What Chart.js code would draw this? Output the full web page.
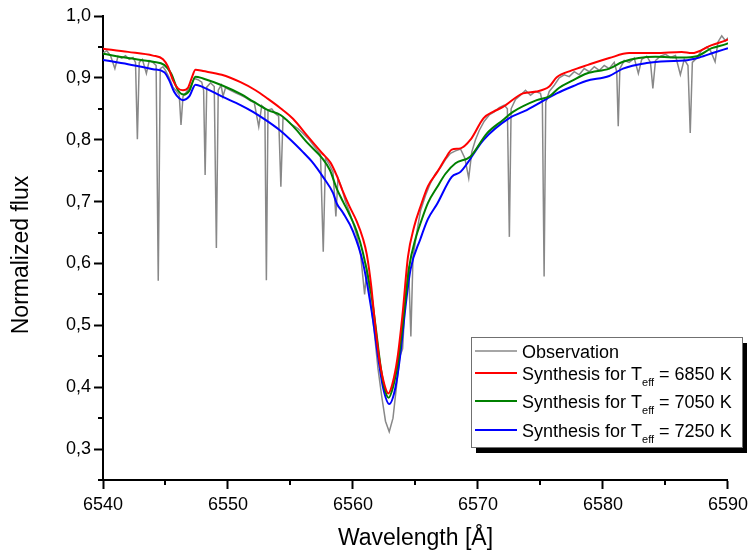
<!DOCTYPE html>
<html>
<head>
<meta charset="utf-8">
<script src="https://cdn.jsdelivr.net/npm/chart.js@4.4.0/dist/chart.umd.min.js"></script>
<style>
  html, body { margin: 0; padding: 0; background: #fff; }
</style>
</head>
<body>
<canvas id="specChart" width="753" height="556"></canvas>
<script>
// axis ticks
const xMajorTicks = [6540, 6550, 6560, 6570, 6580, 6590];
const xMinorTicks = [6545, 6555, 6565, 6575, 6585];
const yMajorTicks = [0.3, 0.4, 0.5, 0.6, 0.7, 0.8, 0.9, 1.0];
const yMinorTicks = [0.25, 0.35, 0.45, 0.55, 0.65, 0.75, 0.85, 0.95];

// observed spectrum
const obsWave = [
  6540.0, 6540.3, 6540.6, 6540.95, 6541.2, 6541.5, 6541.8, 6542.1, 6542.4, 6542.6,
  6542.75, 6542.9, 6543.15, 6543.47, 6543.7, 6544.0, 6544.25, 6544.42, 6544.58, 6544.8,
  6545.0, 6545.3, 6545.6, 6545.9, 6546.1, 6546.24, 6546.4, 6546.7, 6547.0, 6547.3,
  6547.6, 6547.9, 6548.05, 6548.17, 6548.3, 6548.6, 6548.9, 6549.07, 6549.22, 6549.45,
  6549.6, 6549.8, 6550.2, 6550.6, 6551.0, 6551.4, 6551.8, 6552.1, 6552.46, 6552.7,
  6552.95, 6553.07, 6553.2, 6553.5, 6553.8, 6554.05, 6554.23, 6554.4, 6554.7, 6555.0,
  6555.3, 6555.6, 6555.9, 6556.2, 6556.5, 6556.8, 6557.1, 6557.4, 6557.62, 6557.8,
  6558.1, 6558.4, 6558.63, 6558.8, 6559.1, 6559.4, 6559.7, 6560.0, 6560.3, 6560.6,
  6560.93, 6561.1, 6561.4, 6561.7, 6562.0, 6562.3, 6562.6, 6562.9, 6563.2, 6563.5,
  6563.75, 6563.97, 6564.2, 6564.45, 6564.63, 6564.8, 6565.1, 6565.4, 6565.8, 6566.2,
  6566.6, 6567.0, 6567.4, 6567.8, 6568.2, 6568.6, 6568.95, 6569.26, 6569.5, 6569.8,
  6570.1, 6570.5, 6570.9, 6571.3, 6571.7, 6572.1, 6572.35, 6572.51, 6572.65, 6573.0,
  6573.4, 6573.8, 6574.2, 6574.6, 6575.0, 6575.15, 6575.29, 6575.42, 6575.7, 6576.1,
  6576.5, 6576.9, 6577.3, 6577.7, 6578.1, 6578.5, 6578.9, 6579.3, 6579.7, 6580.1,
  6580.5, 6580.9, 6581.1, 6581.22, 6581.35, 6581.7, 6582.1, 6582.5, 6582.83, 6583.1,
  6583.5, 6583.8, 6583.99, 6584.2, 6584.6, 6585.0, 6585.4, 6585.8, 6586.19, 6586.5,
  6586.8, 6586.98, 6587.15, 6587.5, 6587.9, 6588.3, 6588.6, 6588.97, 6589.2, 6589.5,
  6589.8, 6590.0
];
const obsFlux = [
  0.940, 0.944, 0.936, 0.915, 0.935, 0.932, 0.936, 0.930, 0.933, 0.925,
  0.801, 0.925, 0.930, 0.907, 0.928, 0.925, 0.920, 0.572, 0.915, 0.918,
  0.912, 0.900, 0.885, 0.878, 0.872, 0.824, 0.870, 0.878, 0.886, 0.899,
  0.897, 0.893, 0.880, 0.743, 0.885, 0.892, 0.886, 0.625, 0.880, 0.888,
  0.870, 0.884, 0.880, 0.876, 0.872, 0.868, 0.863, 0.860, 0.821, 0.855,
  0.850, 0.573, 0.848, 0.850, 0.842, 0.838, 0.724, 0.835, 0.832, 0.826,
  0.822, 0.818, 0.812, 0.806, 0.800, 0.792, 0.784, 0.776, 0.619, 0.770,
  0.760, 0.748, 0.676, 0.738, 0.722, 0.700, 0.684, 0.666, 0.645, 0.616,
  0.550, 0.590, 0.540, 0.490, 0.430, 0.385, 0.345, 0.328, 0.350, 0.405,
  0.450, 0.462, 0.550, 0.595, 0.482, 0.610, 0.650, 0.685, 0.710, 0.730,
  0.745, 0.755, 0.768, 0.778, 0.782, 0.785, 0.770, 0.738, 0.780, 0.800,
  0.815, 0.830, 0.840, 0.845, 0.852, 0.856, 0.850, 0.643, 0.850, 0.865,
  0.872, 0.880, 0.872, 0.878, 0.875, 0.860, 0.579, 0.860, 0.878, 0.888,
  0.900, 0.905, 0.902, 0.910, 0.905, 0.915, 0.910, 0.918, 0.912, 0.920,
  0.915, 0.925, 0.910, 0.822, 0.915, 0.928, 0.925, 0.932, 0.907, 0.930,
  0.935, 0.925, 0.883, 0.928, 0.935, 0.938, 0.933, 0.936, 0.905, 0.930,
  0.920, 0.811, 0.925, 0.932, 0.945, 0.950, 0.944, 0.926, 0.958, 0.968,
  0.960, 0.965
];

// synthetic spectra
const wave6850 = [
  6540, 6542, 6544, 6544.8, 6545.2, 6545.6, 6546.0, 6546.4, 6546.8, 6547.1,
  6547.4, 6548, 6549.5, 6551, 6552.2, 6553.2, 6554.2, 6555.2, 6556.4, 6557.5,
  6558.2, 6558.7, 6559.2, 6559.7, 6560.3, 6560.8, 6561.1, 6561.45, 6561.7, 6562.1,
  6562.5, 6562.83, 6563.15, 6563.55, 6563.95, 6564.4, 6564.9, 6565.4, 6566.0, 6566.75,
  6567.4, 6567.9, 6568.6, 6569.4, 6570.45, 6571.2, 6572.0, 6573.6, 6574.7, 6575.7,
  6576.3, 6577.5, 6578.8, 6580.5, 6582.1, 6584.2, 6586.3, 6587.1, 6588.7, 6589.9,
  6590
];
const flux6850 = [
  0.947, 0.942, 0.936, 0.930, 0.918, 0.896, 0.883, 0.880, 0.884, 0.900,
  0.913, 0.911, 0.905, 0.893, 0.880, 0.866, 0.851, 0.834, 0.805, 0.779,
  0.763, 0.742, 0.716, 0.693, 0.668, 0.640, 0.615, 0.565, 0.515, 0.446,
  0.405, 0.390, 0.405, 0.446, 0.515, 0.611, 0.660, 0.692, 0.725, 0.748,
  0.770, 0.784, 0.786, 0.800, 0.835, 0.845, 0.853, 0.875, 0.878, 0.886,
  0.901, 0.912, 0.921, 0.932, 0.940, 0.940, 0.942, 0.940, 0.953, 0.961,
  0.962
];
const wave7050 = [
  6540, 6542, 6544, 6544.9, 6545.45, 6546.0, 6546.45, 6546.9, 6547.4, 6548,
  6549.5, 6551, 6552, 6553.2, 6554.2, 6555.2, 6556.4, 6557.5, 6558.15, 6558.7,
  6559.2, 6559.7, 6560.3, 6560.8, 6561.45, 6561.8, 6562.2, 6562.5, 6562.85, 6563.2,
  6563.6, 6564.0, 6564.5, 6565.0, 6565.4, 6566.0, 6566.75, 6567.4, 6568.2, 6569.4,
  6570.7, 6572.0, 6572.8, 6574.7, 6575.7, 6576.5, 6577.5, 6578.7, 6580.5, 6581.6,
  6584.2, 6586.3, 6587.5, 6588.7, 6589.9, 6590
];
const flux7050 = [
  0.939, 0.932, 0.926, 0.921, 0.907, 0.880, 0.873, 0.879, 0.902, 0.899,
  0.888, 0.874, 0.862, 0.848, 0.840, 0.822, 0.794, 0.771, 0.751, 0.721,
  0.700, 0.680, 0.652, 0.617, 0.552, 0.500, 0.435, 0.400, 0.383, 0.400,
  0.440, 0.505, 0.595, 0.640, 0.665, 0.698, 0.724, 0.745, 0.762, 0.773,
  0.810, 0.832, 0.845, 0.864, 0.870, 0.884, 0.895, 0.907, 0.915, 0.926,
  0.934, 0.933, 0.935, 0.948, 0.955, 0.956
];
const wave7250 = [
  6540, 6542, 6544, 6544.9, 6545.3, 6545.7, 6546.1, 6546.4, 6546.9, 6547.4,
  6548, 6549.5, 6551, 6552, 6553, 6554.1, 6555, 6556, 6556.7, 6557.6,
  6558.4, 6558.7, 6559.2, 6560.0, 6560.8, 6561.6, 6562.0, 6562.4, 6562.9, 6563.4,
  6563.8, 6564.2, 6564.6, 6565.4, 6566.0, 6566.75, 6567.9, 6568.6, 6570.45, 6572.5,
  6573.9, 6575.5, 6576.3, 6577.9, 6578.65, 6580.5, 6581.6, 6583.5, 6585.1, 6586.5,
  6587.7, 6588.9, 6590
];
const flux7250 = [
  0.929, 0.922, 0.914, 0.909, 0.896, 0.877, 0.867, 0.864, 0.870, 0.889,
  0.885, 0.870, 0.856, 0.845, 0.832, 0.816, 0.800, 0.780, 0.765, 0.740,
  0.714, 0.697, 0.682, 0.652, 0.601, 0.509, 0.450, 0.400, 0.373, 0.400,
  0.455, 0.530, 0.590, 0.640, 0.672, 0.697, 0.740, 0.748, 0.800, 0.835,
  0.848, 0.866, 0.875, 0.889, 0.895, 0.903, 0.915, 0.924, 0.927, 0.928,
  0.933, 0.941, 0.948
];

const temps = [6850, 7050, 7250];

function toPoints(xs, ys) {
  return xs.map((x, i) => ({ x: x, y: ys[i] }));
}

const fmtComma = v => v.toFixed(1).replace('.', ',');
const FONT = '"Liberation Sans", Arial, sans-serif';

// short minor ticks on both axes
const minorTicks = {
  id: 'minorTicks',
  afterDraw(chart) {
    const ctx = chart.ctx;
    const xs = chart.scales.x, ys = chart.scales.y;
    const area = chart.chartArea;
    ctx.save();
    ctx.strokeStyle = '#000';
    ctx.lineWidth = 2;
    ctx.beginPath();
    xMinorTicks.forEach(v => {
      const px = Math.round(xs.getPixelForValue(v));
      ctx.moveTo(px, area.bottom);
      ctx.lineTo(px, area.bottom + 5);
    });
    yMinorTicks.forEach(v => {
      const py = Math.round(ys.getPixelForValue(v));
      ctx.moveTo(area.left, py);
      ctx.lineTo(area.left - 5, py);
    });
    ctx.stroke();
    ctx.restore();
  }
};

// y title, sitting a bit below the middle of the axis like the original
const yTitle = {
  id: 'yTitle',
  afterDraw(chart) {
    const ctx = chart.ctx;
    ctx.save();
    ctx.translate(22, 255);
    ctx.rotate(-Math.PI / 2);
    ctx.font = '23px ' + FONT;
    ctx.fillStyle = '#000';
    ctx.textAlign = 'center';
    ctx.textBaseline = 'middle';
    ctx.fillText('Normalized flux', 0, 0);
    ctx.restore();
  }
};

// boxed legend with drop shadow and T_eff subscript
const boxLegend = {
  id: 'boxLegend',
  afterDraw(chart) {
    const ctx = chart.ctx;
    const left = 471, top = 337, w = 271, h = 110;
    ctx.save();
    ctx.fillStyle = '#000';
    ctx.fillRect(left + 5, top + 6, w, h);
    ctx.fillStyle = '#fff';
    ctx.fillRect(left, top, w, h);
    ctx.strokeStyle = '#707070';
    ctx.lineWidth = 1;
    ctx.strokeRect(left + 0.5, top + 0.5, w, h);

    const rowY = [351, 373, 401, 430];
    const sets = chart.data.datasets;
    sets.forEach((ds, r) => {
      const y = rowY[r];
      ctx.strokeStyle = ds.borderColor;
      ctx.lineWidth = ds.borderWidth;
      ctx.beginPath();
      ctx.moveTo(475, y);
      ctx.lineTo(517, y);
      ctx.stroke();

      ctx.fillStyle = '#000';
      ctx.textBaseline = 'alphabetic';
      ctx.textAlign = 'left';
      ctx.font = '18px ' + FONT;
      let x = 522;
      if (r === 0) {
        ctx.fillText(ds.label, x, y + 6.5);
      } else {
        const head = 'Synthesis for T';
        ctx.fillText(head, x, y + 6.5);
        x += ctx.measureText(head).width;
        ctx.font = '11px ' + FONT;
        ctx.fillText('eff', x, y + 13);
        x += ctx.measureText('eff').width;
        ctx.font = '18px ' + FONT;
        ctx.fillText(' = ' + temps[r - 1] + ' K', x, y + 6.5);
      }
    });
    ctx.restore();
  }
};

const tickFont = { family: FONT, size: 18 };
const titleFont = { family: FONT, size: 23 };

new Chart(document.getElementById('specChart').getContext('2d'), {
  type: 'line',
  data: {
    datasets: [
      {
        label: 'Observation',
        data: toPoints(obsWave, obsFlux),
        borderColor: '#888888',
        borderWidth: 1.5,
        tension: 0,
        order: 4
      },
      {
        label: 'Synthesis for Teff = ' + temps[0] + ' K',
        data: toPoints(wave6850, flux6850),
        borderColor: '#ff0000',
        borderWidth: 2,
        cubicInterpolationMode: 'monotone',
        order: 1
      },
      {
        label: 'Synthesis for Teff = ' + temps[1] + ' K',
        data: toPoints(wave7050, flux7050),
        borderColor: '#008000',
        borderWidth: 2,
        cubicInterpolationMode: 'monotone',
        order: 2
      },
      {
        label: 'Synthesis for Teff = ' + temps[2] + ' K',
        data: toPoints(wave7250, flux7250),
        borderColor: '#0000ff',
        borderWidth: 2,
        cubicInterpolationMode: 'monotone',
        order: 3
      }
    ]
  },
  options: {
    responsive: false,
    animation: false,
    layout: { padding: { left: 0, right: 20, top: 16, bottom: 0 } },
    elements: { point: { radius: 0 } },
    plugins: {
      legend: { display: false },
      tooltip: { enabled: false }
    },
    scales: {
      x: {
        type: 'linear',
        min: 6540,
        max: 6590,
        afterBuildTicks: s => { s.ticks = xMajorTicks.map(v => ({ value: v })); },
        afterFit: s => { s.height = 76; },
        grid: { drawOnChartArea: false, tickLength: 9, tickWidth: 2, tickColor: '#000' },
        border: { color: '#000', width: 2 },
        ticks: { font: tickFont, color: '#000', padding: 5, maxRotation: 0, callback: v => String(v) },
        title: { display: true, text: 'Wavelength [Å]', font: titleFont, color: '#000', padding: { top: 0, bottom: 4 } }
      },
      y: {
        type: 'linear',
        min: 0.25,
        max: 1.0,
        afterBuildTicks: s => { s.ticks = yMajorTicks.map(v => ({ value: v })); },
        afterFit: s => { s.width = 103; },
        grid: { drawOnChartArea: false, tickLength: 9, tickWidth: 2, tickColor: '#000' },
        border: { color: '#000', width: 2 },
        ticks: { font: tickFont, color: '#000', padding: 3, callback: v => fmtComma(v) }
      }
    }
  },
  plugins: [minorTicks, yTitle, boxLegend]
});
</script>
</body>
</html>
